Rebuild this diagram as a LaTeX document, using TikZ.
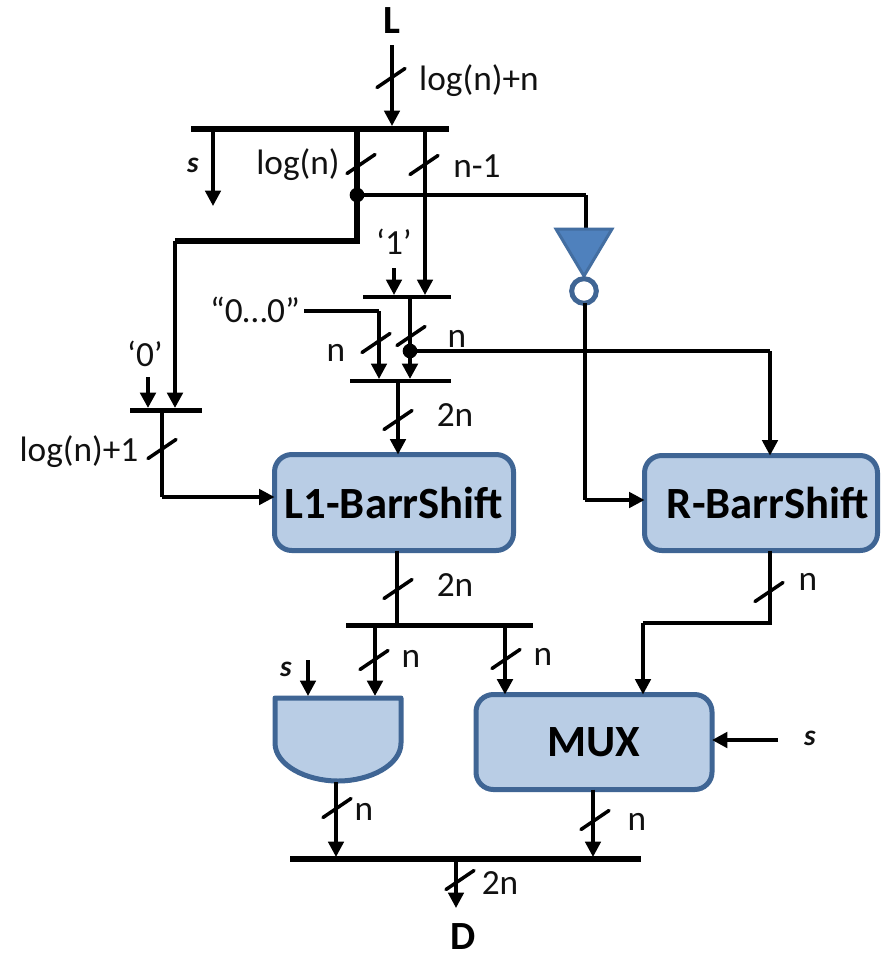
\documentclass[tikz,border=0pt]{standalone}
\usepackage{fontspec}
\setmainfont{Carlito}
\usetikzlibrary{arrows.meta}
\definecolor{boxfill}{HTML}{B9CDE5}
\definecolor{boxline}{HTML}{3F6594}
\definecolor{invfill}{HTML}{4F81BD}
\definecolor{txt}{HTML}{111111}
\tikzset{
  x=0.75pt,y=-0.75pt,
  px/.style={line width=#1*0.75pt},
  wire/.style={px=3.5,draw=black},
  wirem/.style={px=4.5,draw=black},
  wiret/.style={px=5.5,draw=black},
  arr/.style={-{Triangle[length=11.5pt,width=11.5pt]}},
  bus/.style={px=#1,draw=black,line cap=butt},
  tick/.style={px=3.5,draw=black,line cap=round},
  lab/.style={font=\fontsize{26.5}{28}\selectfont,text=txt,inner sep=0pt,outer sep=0pt},
  sel/.style={font=\fontsize{22}{24}\selectfont\bfseries\itshape,text=txt,inner sep=0pt},
  head/.style={font=\fontsize{30}{32}\selectfont\bfseries,text=black,inner sep=0pt},
  blockbox/.style={draw=boxline,fill=boxfill,px=5,rounded corners=13pt,inner sep=0pt,outer sep=0pt,
     font=\fontsize{33.5}{35}\selectfont\bfseries,text=black},
  jdot/.style={circle,fill=black,inner sep=0pt,minimum size=11pt},
}
\newcommand{\slashmark}[2]{\draw[tick] (#1) ++(-14,9.5) -- ++(28,-19);}
\begin{document}
\begin{tikzpicture}
\useasboundingbox (0,0) rectangle (885,958);
\fill[white] (0,0) rectangle (885,958);
% blocks
\node[blockbox,minimum width=179.25pt,minimum height=72pt] (L1) at (394,502.5) {L1-BarrShift};
\node[blockbox,minimum width=174.75pt,minimum height=71.25pt] (R1) at (761,503) {\hspace*{10.5pt}R-BarrShift};
\node[blockbox,minimum width=177pt,minimum height=71.25pt] (MUX) at (594,742) {MUX};
% AND gate
\draw[draw=boxline,fill=boxfill,px=5,line join=round] (275,698) -- (401,698) -- (401,743)
  .. controls (401,765) and (370,781) .. (338,781) .. controls (306,781) and (275,765) .. (275,743) -- cycle;
\coordinate (gateout) at (336,782);
% buses
\coordinate (b1a) at (191,129); \coordinate (b1b) at (449,129);
\coordinate (b2a) at (363,297); \coordinate (b2b) at (451,297);
\coordinate (b3a) at (350,381); \coordinate (b3b) at (451,381);
\coordinate (b4a) at (130,410); \coordinate (b4b) at (202,410);
\coordinate (b5a) at (346,625); \coordinate (b5b) at (533,625);
\coordinate (b6a) at (290,859); \coordinate (b6b) at (641,859);
\draw[bus=6] (b1a) -- (b1b);
\draw[bus=4.5] (b2a) -- (b2b);
\draw[bus=4.5] (b3a) -- (b3b);
\draw[bus=5] (b4a) -- (b4b);
\draw[bus=5] (b5a) -- (b5b);
\draw[bus=6] (b6a) -- (b6b);
% top
\node[head] (L) at (392,21) {L};
\coordinate (Ltail) at (392,45); \coordinate (Lend) at (392,126);
\draw[wire,arr] (Ltail) -- (Lend);
\coordinate (sT) at (213,129); \coordinate (sE) at (213,206);
\draw[wire,arr] (sT) -- (sE);
\node[sel] (s1) at (193,165) {s};
% log(n) path
\coordinate (logT) at (357,129); \coordinate (logJ) at (357,195);
\coordinate (logK) at (357,241); \coordinate (logL) at (175,241); \coordinate (logE) at (175,408);
\draw[wiret,line join=miter] (logT) -- (logK) -- (logL);
\draw[wirem,arr] (logL) -- (logE);
\node[jdot] (d1) at (logJ) {};
% n-1
\coordinate (nmT) at (425,129); \coordinate (nmE) at (425,295);
\draw[wire,arr] (nmT) -- (nmE);
% inverter
\coordinate (invT) at (586,228); \coordinate (invC) at (586,195);
\draw[wire] (d1.center) -- (invC);
\draw[wirem] (invC) -- (invT);
\draw[draw=invfill!85!black,fill=invfill,px=3,line join=miter] (556,229) -- (612,229) -- (584,276) -- cycle;
\node[circle,draw=boxline,fill=white,px=5,minimum size=18.5pt,inner sep=0pt,outer sep=0pt] (bub) at (584,291) {};
\coordinate (invO) at (585,500);
\draw[wirem] (bub.south -| invO) -- (invO);
\draw[wire,arr] (invO) -- (invO -| R1.west);
% '1'
\node[lab] (one) at (394,242) {‘1’};
\coordinate (oneT) at (394,268); \coordinate (oneE) at (394,295);
\draw[wire,arr] (oneT) -- (oneE);
% "0...0"
\node[lab] (zeros) at (255,310) {“0…0”};
\coordinate (zA) at (304,311); \coordinate (zB) at (379,311); \coordinate (zE) at (379,379);
\draw[wirem] (zA) -- (zB);
\draw[wire,arr] (zB) -- (zE);
\coordinate (xT) at (410,297); \coordinate (xE) at (410,379);
\draw[wirem] (xT) -- (410,351);
\draw[wirem,arr] (410,351) -- (xE);
\node[jdot] (d2) at (410,351) {};
\coordinate (yC) at (770,351);
\draw[wire] (d2.center) -- (yC);
\draw[wire,arr] (yC) -- (yC |- R1.north);
% 2n into L1
\coordinate (cT) at (398,381);
\draw[wire,arr] (cT) -- (cT |- L1.north);
% '0'
\node[lab] (zero) at (145,354) {‘0’};
\coordinate (oT) at (148,377); \coordinate (oE) at (148,408);
\draw[wirem,arr] (oT) -- (oE);
\coordinate (lT) at (162,410); \coordinate (lC) at (162,497);
\draw[wirem] (lT) -- (lC);
\draw[wire,arr] (lC) -- (lC -| L1.west);
% below L1
\coordinate (dA) at (397,625);
\draw[wirem] (L1.south -| dA) -- (dA);
\coordinate (rA) at (770,623); \coordinate (rB) at (643,623);
\draw[wirem,line join=miter] (R1.south -| rA) -- (rA) -- (rB);
\draw[wire,arr] (rB) -- (rB |- MUX.north);
\coordinate (aT) at (375,625); \coordinate (aE) at (375,696);
\draw[wirem,arr] (aT) -- (aE);
\coordinate (mT) at (505,625);
\draw[wirem,arr] (mT) -- (mT |- MUX.north);
\coordinate (sgT) at (308,660); \coordinate (sgE) at (308,696);
\draw[wire,arr] (sgT) -- (sgE);
\node[sel] (s2) at (286,669) {s};
\coordinate (smT) at (778,740);
\draw[wirem,arr] (smT) -- (smT -| MUX.east);
\node[sel] (s3) at (810,738) {s};
% bottom
\coordinate (gE) at (336,857);
\draw[wire,arr] (gateout) -- (gE);
\coordinate (mE) at (593,857);
\draw[wire,arr] (MUX.south -| mE) -- (mE);
\coordinate (oT2) at (456,859); \coordinate (oE2) at (456,908);
\draw[wire,arr] (oT2) -- (oE2);
\node[head] (D) at (463,937) {D};
% slashes
\slashmark{391,78}{}
\slashmark{361,164}{}
\slashmark{424,165}{}
\slashmark{376,343}{}
\slashmark{411,336}{}
\slashmark{398,420}{}
\slashmark{162,449}{}
\slashmark{398,589}{}
\slashmark{769,592}{}
\slashmark{374,660}{}
\slashmark{506,659}{}
\slashmark{337,808}{}
\slashmark{595,820}{}
\slashmark{460,880}{}
% labels
\node[lab] (t1) at (479,81) {log(n)+n};
\node[lab] (t2) at (298,165) {log(n)};
\node[lab] (t3) at (477,166) {n-1};
\node[lab] (t4) at (336,353) {n};
\node[lab] (t5) at (457,339) {n};
\node[lab] (t6) at (455,415) {2n};
\node[lab] (t7) at (79,452) {log(n)+1};
\node[lab] (t8) at (455,585) {2n};
\node[lab] (t9) at (808,582) {n};
\node[lab] (t10) at (411,659) {n};
\node[lab] (t11) at (543,657) {n};
\node[lab] (t12) at (364,812) {n};
\node[lab] (t13) at (637,822) {n};
\node[lab] (t14) at (500,883) {2n};
\end{tikzpicture}
\end{document}
